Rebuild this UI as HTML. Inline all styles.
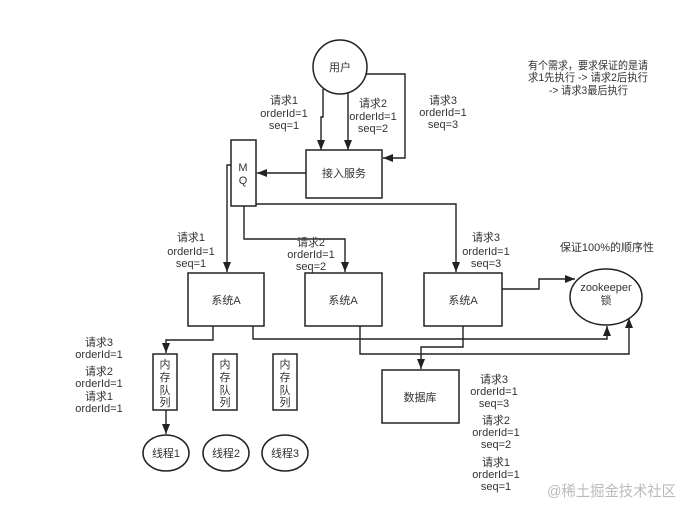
<!DOCTYPE html>
<html><head><meta charset="utf-8"><style>
html,body{margin:0;padding:0;background:#fff;}
svg{display:block;}
text{font-family:"Liberation Sans","Noto Sans CJK SC",sans-serif;font-size:11px;fill:#333;}
</style></head><body>
<svg width="692" height="513" viewBox="0 0 692 513" xmlns="http://www.w3.org/2000/svg">
<defs>
<marker id="a" markerUnits="userSpaceOnUse" markerWidth="11" markerHeight="10" refX="10" refY="4" orient="auto">
<path d="M0,0 L10,4 L0,8 Z" fill="#222"/>
</marker>
</defs>
<rect width="692" height="513" fill="#fff"/>
<g fill="none" stroke="#222" stroke-width="1.5">
<circle cx="340" cy="67" r="27" fill="#fff"/>
<rect x="306" y="150" width="76" height="48"/>
<rect x="231" y="140" width="25" height="66"/>
<rect x="188" y="273" width="76" height="53"/>
<rect x="305" y="273" width="77" height="53"/>
<rect x="424" y="273" width="78" height="53"/>
<ellipse cx="606" cy="297" rx="36" ry="28"/>
<rect x="382" y="370" width="77" height="53"/>
<rect x="153" y="354" width="24" height="56"/>
<rect x="213" y="354" width="24" height="56"/>
<rect x="273" y="354" width="24" height="56"/>
<ellipse cx="166" cy="453" rx="23" ry="18"/>
<ellipse cx="226" cy="453" rx="23" ry="18"/>
<ellipse cx="285" cy="453" rx="23" ry="18"/>
</g>
<g fill="none" stroke="#222" stroke-width="1.4" marker-end="url(#a)">
<path d="M323,89 V117 H321 V150"/>
<path d="M348,93 V150"/>
<path d="M366,74 H405 V158 H383"/>
<path d="M306,173 H257"/>
<path d="M231,165 H227 V272"/>
<path d="M244,206 V239 H345 V272"/>
<path d="M256,204 H456 V272"/>
<path d="M502,289 H539 V279 H575"/>
<path d="M213,326 V340 H166 V353"/>
<path d="M253,326 V339 H607 V326"/>
<path d="M360,326 V354 H629 V318"/>
<path d="M463,326 V347 H421 V369"/>
<path d="M166,410 V434"/>
</g>
<g text-anchor="middle">
<text x="340" y="71">用户</text>
<text x="344" y="177">接入服务</text>
<text x="243" y="171">M</text>
<text x="243" y="184">Q</text>
<text x="226" y="304">系统A</text>
<text x="343" y="304">系统A</text>
<text x="463" y="304">系统A</text>
<text x="420" y="401">数据库</text>
<text x="606" y="291">zookeeper</text>
<text x="606" y="304">锁</text>
<text x="165" y="368">内</text>
<text x="165" y="381">存</text>
<text x="165" y="394">队</text>
<text x="165" y="406">列</text>
<text x="225" y="368">内</text>
<text x="225" y="381">存</text>
<text x="225" y="394">队</text>
<text x="225" y="406">列</text>
<text x="285" y="368">内</text>
<text x="285" y="381">存</text>
<text x="285" y="394">队</text>
<text x="285" y="406">列</text>
<text x="166" y="457">线程1</text>
<text x="226" y="457">线程2</text>
<text x="285" y="457">线程3</text>
<text x="284" y="104">请求1</text>
<text x="284" y="117">orderId=1</text>
<text x="284" y="129">seq=1</text>
<text x="373" y="107">请求2</text>
<text x="373" y="120">orderId=1</text>
<text x="373" y="132">seq=2</text>
<text x="443" y="104">请求3</text>
<text x="443" y="116">orderId=1</text>
<text x="443" y="128">seq=3</text>
<text x="191" y="241">请求1</text>
<text x="191" y="255">orderId=1</text>
<text x="191" y="267">seq=1</text>
<text x="311" y="246">请求2</text>
<text x="311" y="258">orderId=1</text>
<text x="311" y="270">seq=2</text>
<text x="486" y="241">请求3</text>
<text x="486" y="255">orderId=1</text>
<text x="486" y="267">seq=3</text>
<text x="607" y="251">保证100%的顺序性</text>
<text x="99" y="346">请求3</text>
<text x="99" y="358">orderId=1</text>
<text x="99" y="375">请求2</text>
<text x="99" y="387">orderId=1</text>
<text x="99" y="400">请求1</text>
<text x="99" y="412">orderId=1</text>
<text x="494" y="383">请求3</text>
<text x="494" y="395">orderId=1</text>
<text x="494" y="407">seq=3</text>
<text x="496" y="424">请求2</text>
<text x="496" y="436">orderId=1</text>
<text x="496" y="448">seq=2</text>
<text x="496" y="466">请求1</text>
<text x="496" y="478">orderId=1</text>
<text x="496" y="490">seq=1</text>
</g>
<text x="528" y="69" textLength="120" lengthAdjust="spacingAndGlyphs">有个需求，要求保证的是请</text>
<text x="528" y="81" textLength="120" lengthAdjust="spacingAndGlyphs">求1先执行 -&gt; 请求2后执行</text>
<text x="549" y="94" textLength="79" lengthAdjust="spacingAndGlyphs">-&gt; 请求3最后执行</text>
<text x="547" y="496" textLength="129" lengthAdjust="spacingAndGlyphs" style="font-size:15px;fill:#bbb;">@稀土掘金技术社区</text>
</svg>
</body></html>
